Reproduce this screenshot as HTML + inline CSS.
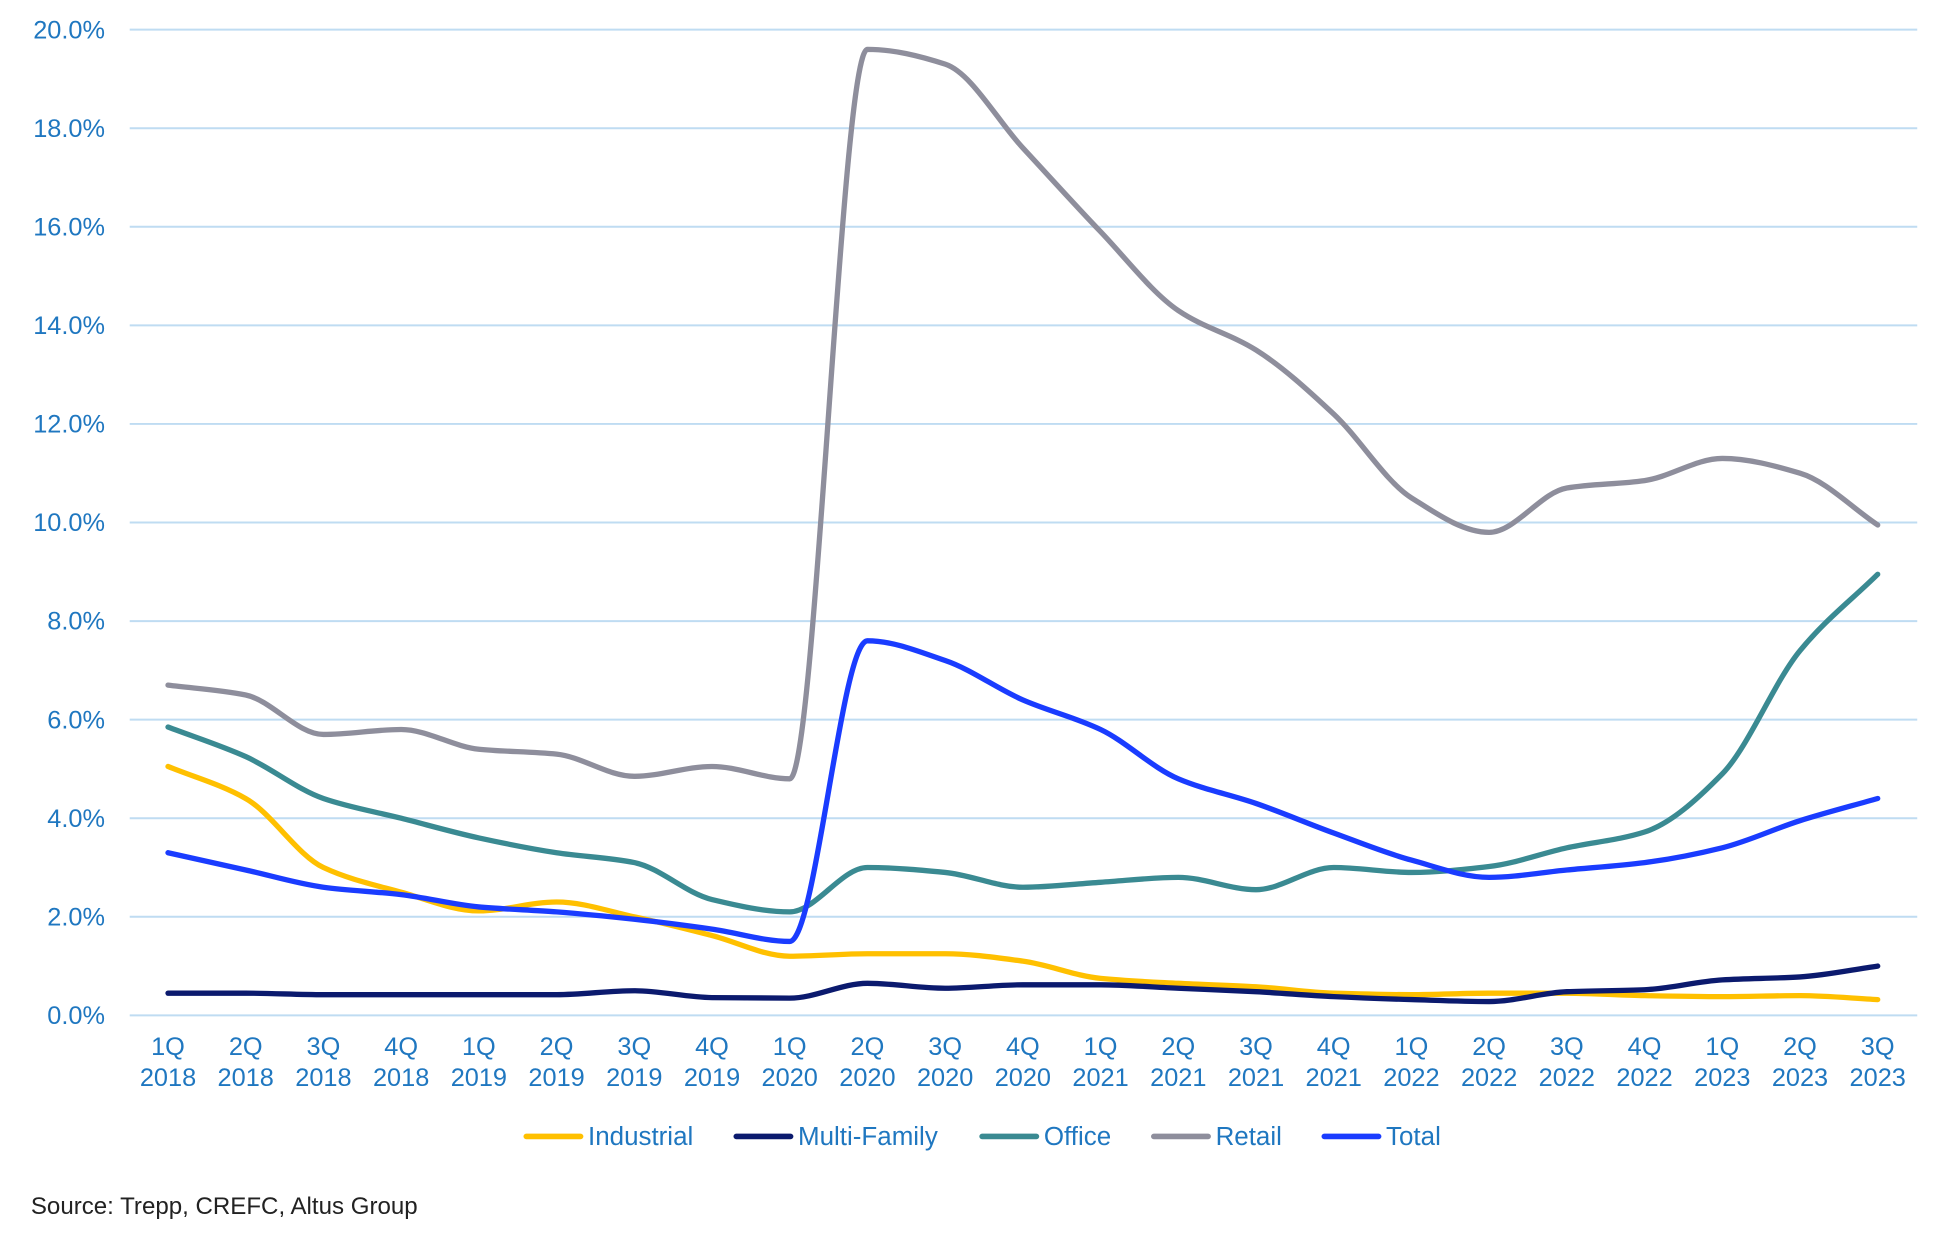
<!DOCTYPE html>
<html><head><meta charset="utf-8"><style>
html,body{margin:0;padding:0;background:#fff;}
svg{display:block;}
text{font-family:"Liberation Sans",Arial,sans-serif;}
</style></head><body>
<svg id="c" width="1937" height="1234" viewBox="0 0 1568 999" preserveAspectRatio="none" xmlns="http://www.w3.org/2000/svg">
<g id="grid" stroke="#bfdcf2" stroke-width="1.6"></g>
<g id="ylab" fill="#1f77c0" font-size="20.5" text-anchor="end"></g>
<g id="xlab" fill="#1f77c0" font-size="20.5" text-anchor="middle"></g>
<g id="lines" fill="none" stroke-width="4.3" stroke-linecap="round" stroke-linejoin="round"></g>
<g font-size="21" fill="#1f77c0">
<line x1="426" y1="920" x2="470" y2="920" stroke="#ffc000" stroke-width="4.5" stroke-linecap="round"/><text x="476" y="927">Industrial</text>
<line x1="596" y1="920" x2="640" y2="920" stroke="#0b1a6e" stroke-width="4.5" stroke-linecap="round"/><text x="646" y="927">Multi-Family</text>
<line x1="795" y1="920" x2="839" y2="920" stroke="#3a8a92" stroke-width="4.5" stroke-linecap="round"/><text x="845" y="927">Office</text>
<line x1="934" y1="920" x2="978" y2="920" stroke="#8e8e9c" stroke-width="4.5" stroke-linecap="round"/><text x="984" y="927">Retail</text>
<line x1="1072" y1="920" x2="1116" y2="920" stroke="#1a3cff" stroke-width="4.5" stroke-linecap="round"/><text x="1122" y="927">Total</text>
</g>
<text x="25" y="983" font-size="19.5" fill="#222">Source: Trepp, CREFC, Altus Group</text>
</svg>
<script>
var NS="http://www.w3.org/2000/svg";
function el(p,t,a,txt){var e=document.createElementNS(NS,t);for(var k in a)e.setAttribute(k,a[k]);if(txt!=null)e.textContent=txt;document.getElementById(p).appendChild(e);return e;}
function Y(v){return 822-v*39.9;}
function X(i){return 136+i*62.909;}
for(var v=0;v<=20;v+=2){el("grid","line",{x1:105,x2:1552,y1:Y(v),y2:Y(v)});el("ylab","text",{x:85,y:Y(v)+7},v.toFixed(1)+"%");}
for(var i=0;i<23;i++){var qq=(i%4)+1,y=2018+Math.floor(i/4);el("xlab","text",{x:X(i),y:854},qq+"Q");el("xlab","text",{x:X(i),y:879},""+y);}
var S=[
["#ffc000",[5.05,4.4,3.0,2.5,2.12,2.3,2.0,1.62,1.2,1.25,1.25,1.1,0.75,0.65,0.58,0.45,0.42,0.45,0.45,0.4,0.38,0.4,0.32]],
["#0b1a6e",[0.45,0.45,0.42,0.42,0.42,0.42,0.5,0.36,0.35,0.65,0.55,0.62,0.62,0.55,0.48,0.38,0.32,0.28,0.48,0.52,0.72,0.78,1.0]],
["#3a8a92",[5.85,5.25,4.4,4.0,3.6,3.3,3.1,2.35,2.1,3.0,2.9,2.6,2.7,2.8,2.55,3.0,2.9,3.02,3.4,3.72,4.9,7.4,8.95]],
["#8e8e9c",[6.7,6.5,5.7,5.8,5.4,5.3,4.85,5.05,4.8,19.6,19.3,17.6,15.9,14.3,13.5,12.2,10.5,9.8,10.7,10.85,11.3,11.0,9.95]],
["#1a3cff",[3.3,2.95,2.6,2.45,2.2,2.1,1.95,1.75,1.5,7.6,7.2,6.4,5.8,4.8,4.3,3.7,3.15,2.8,2.95,3.1,3.4,3.95,4.4]]];
S.forEach(function(s){var d=s[1],n=d.length,h=62.909,p=d.map(function(v,i){return [X(i),Y(v)];});
var dl=[],m=[];for(var i=0;i<n-1;i++)dl.push((p[i+1][1]-p[i][1])/h);
m[0]=dl[0];m[n-1]=dl[n-2];
for(var i=1;i<n-1;i++){if(dl[i-1]*dl[i]<=0)m[i]=0;else{var a=dl[i-1],b=dl[i];m[i]=2/(1/a+1/b);}}
var str="M"+p[0][0]+","+p[0][1];
for(var i=0;i<n-1;i++){str+=" C"+(p[i][0]+h/3)+","+(p[i][1]+m[i]*h/3)+" "+(p[i+1][0]-h/3)+","+(p[i+1][1]-m[i+1]*h/3)+" "+p[i+1][0]+","+p[i+1][1];}
el("lines","path",{d:str,stroke:s[0]});});
</script>
</body></html>
